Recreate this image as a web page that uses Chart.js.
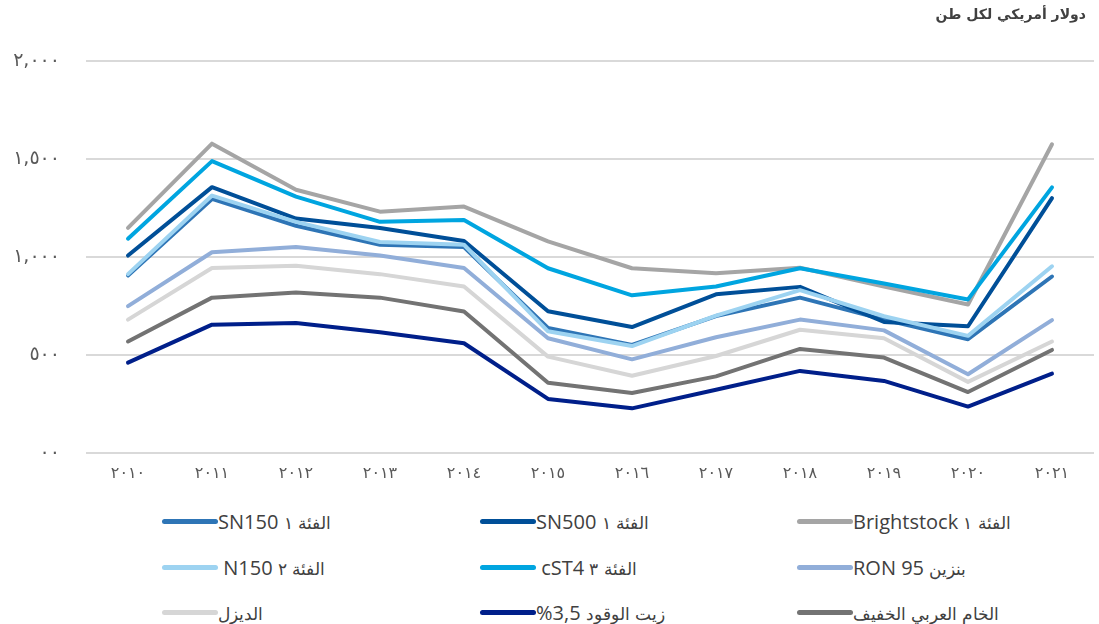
<!DOCTYPE html>
<html lang="ar">
<head>
<meta charset="utf-8">
<script src="https://cdn.jsdelivr.net/npm/chart.js@4"></script>
<style>
  @font-face { font-family: "ArabicSmall"; src: local("DejaVu Sans"); unicode-range: U+0600-06FF; size-adjust: 85%; }
  body { margin: 0; background: #fff; }
  #wrap { position: relative; width: 1099px; height: 624px; overflow: hidden; font-family: "Open Sans", "DejaVu Sans", sans-serif; }
  #chart { position: absolute; left: 0; top: 0; }
  #title { position: absolute; top: 6px; right: 13px; font: bold 14px "DejaVu Sans", sans-serif; color: #404040; direction: rtl; }
  #legend .item { position: absolute; height: 26px; display: flex; align-items: center; white-space: pre; color: #404040; font: 20px "ArabicSmall", "Open Sans", sans-serif; }
  #legend .mark { display: inline-block; width: 56px; height: 5px; border-radius: 3px; }
  #legend .txt { direction: rtl; unicode-bidi: isolate; }
</style>
</head>
<body>
<div id="wrap">
  <canvas id="chart" width="1099" height="498"></canvas>
  <div id="title">دولار أمريكي لكل طن</div>
  <div id="legend"></div>
</div>
<script>
// --- Data ---
const years = ['٢٠١٠', '٢٠١١', '٢٠١٢', '٢٠١٣', '٢٠١٤', '٢٠١٥', '٢٠١٦', '٢٠١٧', '٢٠١٨', '٢٠١٩', '٢٠٢٠', '٢٠٢١'];
const yTickLabels = ['٠٠', '٥٠٠', '١,٠٠٠', '١,٥٠٠', '٢,٠٠٠'];

const sn150 = [905, 1296, 1159, 1062, 1050, 637, 551, 698, 792, 680, 580, 900];
const sn500 = [1007, 1356, 1196, 1148, 1081, 723, 642, 809, 847, 668, 646, 1300];
const brightstock = [1148, 1578, 1343, 1231, 1257, 1079, 942, 917, 945, 849, 757, 1575];
const n150 = [912, 1313, 1179, 1076, 1062, 620, 545, 700, 830, 697, 597, 952];
const cst4 = [1093, 1489, 1308, 1179, 1188, 942, 804, 849, 942, 864, 783, 1355];
const ron95 = [749, 1024, 1050, 1007, 943, 585, 477, 590, 680, 625, 401, 677];
const diesel = [680, 943, 955, 912, 849, 491, 393, 494, 628, 585, 362, 568];
const fuelOil = [460, 654, 663, 615, 559, 275, 227, 322, 418, 367, 236, 404];
const crude = [568, 792, 818, 792, 721, 358, 305, 390, 530, 486, 310, 525];

const series = [
    { label: 'الفئة ١ SN150', data: sn150, color: '#2E75B6' },
    { label: 'الفئة ١ SN500', data: sn500, color: '#004F98' },
    { label: 'الفئة ١ Brightstock', data: brightstock, color: '#A5A5A5' },
    { label: 'الفئة ٢ N150 ', data: n150, color: '#9DD3F1' },
    { label: 'الفئة ٣ cST4 ', data: cst4, color: '#00A5E0' },
    { label: 'بنزين RON 95', data: ron95, color: '#91AED9' },
    { label: 'الديزل', data: diesel, color: '#D6D6D6' },
    { label: 'زيت الوقود \u2066%3,5\u2069', data: fuelOil, color: '#001F8A' },
    { label: 'الخام العربي الخفيف', data: crude, color: '#737373' }
];

// --- Chart ---
// wide letter spacing on the axis digits
const spacing = {
    id: 'spacing',
    beforeDraw: (chart) => { chart.ctx.letterSpacing = '8px'; }
};

const chart = new Chart(document.getElementById('chart'), {
    type: 'line',
    data: {
        labels: years,
        datasets: series.map((s, i) => ({
            label: s.label, data: s.data, borderColor: s.color, backgroundColor: s.color,
            borderWidth: 4, pointRadius: 0, tension: 0, borderCapStyle: 'round', borderJoinStyle: 'round',
            order: series.length - i
        }))
    },
    options: {
        responsive: false, animation: false, devicePixelRatio: 1,
        layout: { padding: { top: 61, right: 5, bottom: 12, left: 0 } },
        plugins: { legend: { display: false }, tooltip: { enabled: false } },
        scales: {
            x: {
                offset: true,
                grid: { display: false }, border: { display: false },
                ticks: { color: '#595959', font: { family: 'DejaVu Sans', size: 16 }, padding: 3, maxRotation: 0 }
            },
            y: {
                min: 0, max: 2000,
                afterFit: (scale) => { scale.width = 86; },
                grid: { color: '#D9D9D9', lineWidth: 2, drawTicks: false }, border: { display: false },
                ticks: {
                    stepSize: 500, padding: 26, color: '#595959', font: { family: 'DejaVu Sans', size: 19 },
                    callback: (v) => yTickLabels[v / 500]
                }
            }
        }
    },
    plugins: [spacing]
});

// --- Legend (3 columns x 3 rows) ---
const legendEl = document.getElementById('legend');
const colX = [162, 480, 797];
const rowY = [508, 554, 599];
chart.data.datasets.forEach((ds, i) => {
    const item = document.createElement('div');
    item.className = 'item';
    item.style.left = colX[i % 3] + 'px';
    item.style.top = rowY[Math.floor(i / 3)] + 'px';
    item.innerHTML = `<span class="mark" style="background:${ds.borderColor}"></span><span class="txt">${ds.label}</span>`;
    legendEl.appendChild(item);
});
</script>
</body>
</html>
